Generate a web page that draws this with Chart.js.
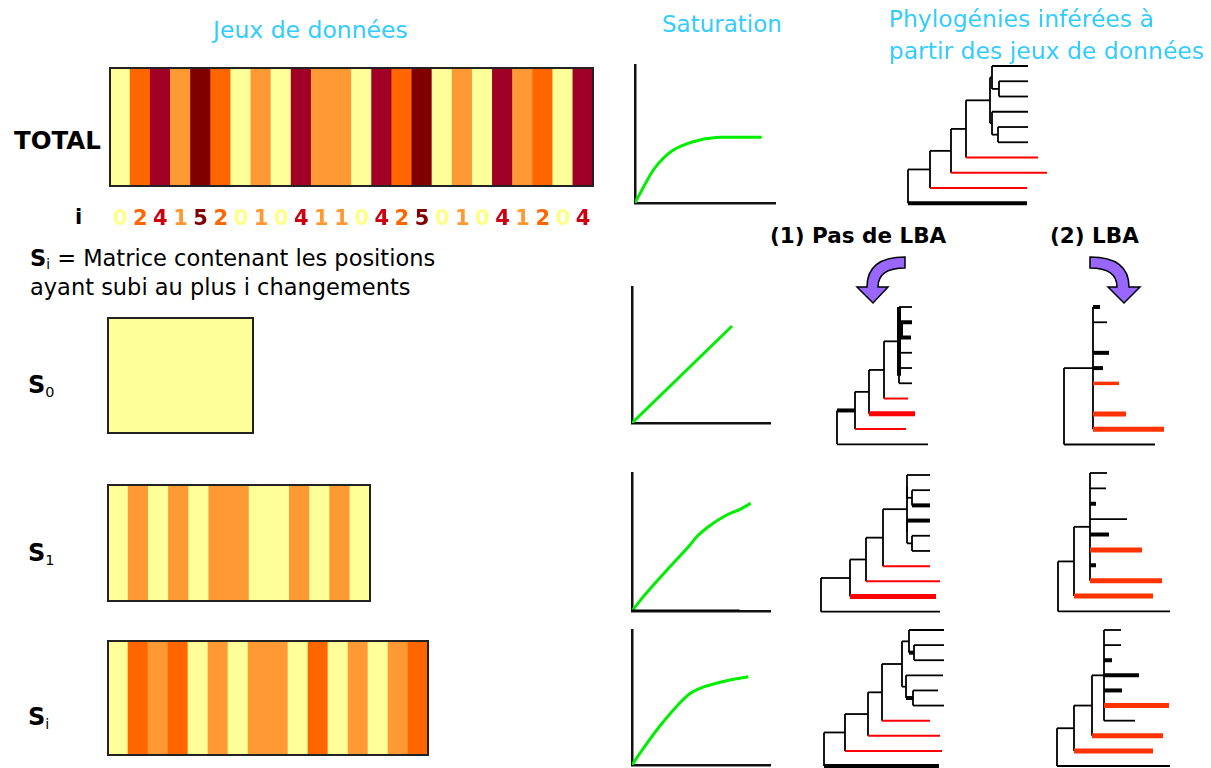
<!DOCTYPE html>
<html>
<head>
<meta charset="utf-8">
<script src="https://cdn.jsdelivr.net/npm/chart.js@4.4.0/dist/chart.umd.min.js"></script>
<style>
  body { margin: 0; background: #fff; width: 1211px; height: 768px; position: relative; overflow: hidden;
         font-family: "DejaVu Sans", sans-serif; }
  .t { position: absolute; white-space: nowrap; }
  .blue { color: #33ccff; }
  canvas { position: absolute; }
  sub { font-size: 60%; vertical-align: -0.25em; }
  svg { position: absolute; left: 0; top: 0; }
</style>
</head>
<body>

<svg width="1211" height="768">
  <path d="M905,257 L905,268 Q878,268 878,287 L888,287 L873,303 L857,287 L867,287 Q867,257 905,257 Z"
        fill="#9966ff" stroke="#000" stroke-width="1.5"/>
  <path d="M1090,257 L1090,268 Q1117,268 1117,287 L1108,287 L1124,303 L1140,287 L1129,287 Q1129,257 1090,257 Z"
        fill="#9966ff" stroke="#000" stroke-width="1.5"/>
</svg>

<script>
// number of changes per site (i), for each data set
const totalI = [0,2,4,1,5,2,0,1,0,4,1,1,0,4,2,5,0,1,0,4,1,2,0,4];
const s0I = [0,0,0,0,0,0,0];
const s1I = [0,1,0,1,0,1,1,0,0,1,0,1,0];
const siI = [0,2,1,2,0,1,0,1,1,0,2,0,1,0,1,2];

// saturation curves (observed vs inferred changes, normalised to the axes)
const satTotalX = [0, 0.024, 0.131, 0.202, 0.274, 0.369, 0.464, 0.536, 0.607, 0.905];
const satTotalY = [0, 0.046, 0.239, 0.324, 0.384, 0.428, 0.457, 0.469, 0.476, 0.476];
const satS0X = [0, 0.725];
const satS0Y = [0, 0.713];
const satS1X = [0, 0.082, 0.155, 0.275, 0.42, 0.469, 0.553, 0.686, 0.783, 0.86];
const satS1Y = [0, 0.104, 0.188, 0.321, 0.478, 0.538, 0.611, 0.696, 0.737, 0.78];
const satS1BaseX = [0, 0.78];
const satS1BaseY = [0, 0];
const satSiX = [0, 0.082, 0.227, 0.408, 0.493, 0.565, 0.71, 0.843];
const satSiY = [0, 0.123, 0.32, 0.519, 0.568, 0.593, 0.63, 0.654];

// trees: [branch length, kind, children, vertical kind]
// k = black, K = black bold, r = long branch (red), R = long branch bold, o/O = LBA long branch
const treeTotal = [0,'k',[
  [22,'k',[
    [21,'k',[
      [15,'k',[
        [24,'k',[
          [2,'k',[[36,'k'],[7,'k',[[29,'k'],[29,'k']]]]],
          [2,'k',[[36,'k'],[6,'k',[[30,'k'],[30,'k']]]]]
        ]],
        [72,'r']
      ]],
      [96,'r']
    ]],
    [97,'r']
  ]],
  [119,'K']
]];
const treeS0a = [0,'k',[
  [18,'K',[
    [14,'k',[
      [15,'k',[
        [15,'k',[
          [0,'k',[[13,'k'],[2,'K',[[11,'K'],[10,'K']],'K']],'K'],
          [0,'k',[[13,'k'],[0,'k',[[13,'k'],[13,'k']]]],'K']
        ],'K'],
        [24,'r']
      ]],
      [46,'R']
    ]],
    [51,'r']
  ]],
  [91,'k']
]];
const treeS0b = [0,'k',[
  [29,'k',[[7,'K'],[14,'k'],[0,'k'],[16,'K'],[10,'K'],[26,'o'],[0,'k'],[33,'O'],[71,'O']]],
  [91,'k']
]];
const treeS1a = [0,'k',[
  [29,'k',[
    [16,'k',[
      [17,'k',[
        [24,'k',[
          [0,'k',[[23,'k'],[5,'k',[[18,'k'],[18,'K']]]]],
          [0,'k',[[23,'K'],[5,'k',[[18,'k'],[18,'k']]]]]
        ]],
        [47,'r']
      ]],
      [74,'r']
    ]],
    [86,'R']
  ]],
  [119,'k']
]];
const treeS1b = [0,'k',[
  [16,'k',[
    [16,'k',[[17,'k'],[16,'k'],[6,'K'],[37,'k'],[19,'K'],[52,'O'],[6,'K'],[72,'O']]],
    [79,'O']
  ]],
  [112,'k']
]];
const treeSia = [0,'k',[
  [21,'k',[
    [23,'k',[
      [14,'k',[
        [20,'k',[
          [7,'k',[[35,'k'],[5,'K',[[30,'k'],[30,'k']]]]],
          [4,'k',[[37,'k'],[7,'K',[[25,'k'],[31,'k']]]]]
        ]],
        [48,'r']
      ]],
      [72,'r']
    ]],
    [97,'r']
  ]],
  [115,'K']
]];
const treeSib = [0,'k',[
  [17,'k',[
    [18,'k',[
      [12,'k',[[17,'k'],[17,'k'],[8,'K'],[35,'K'],[18,'K'],[65,'O'],[31,'k']]],
      [71,'O']
    ]],
    [79,'O']
  ]],
  [113,'k']
]];

const siteColors = {0: '#ffff99', 1: '#ff9933', 2: '#ff6600', 3: '#cc3300', 4: '#a10026', 5: '#800000'};
const digitColors = {0: '#ffff88', 1: '#ff9933', 2: '#ff6600', 3: '#cc3300', 4: '#cc0011', 5: '#800000'};
const branchStyle = {
  k: {c: '#000', w: 1.8}, K: {c: '#000', w: 4},
  r: {c: '#ff0000', w: 2}, R: {c: '#ff0000', w: 5},
  o: {c: '#ff3300', w: 3.5}, O: {c: '#ff3300', w: 5}
};
const FONT = '"DejaVu Sans", sans-serif';

function text(html, left, cy, size, opts = {}) {
  const d = document.createElement('div');
  d.className = 't' + (opts.blue ? ' blue' : '');
  d.innerHTML = html;
  const lh = Math.round(size * 1.2);
  d.style.left = left + 'px';
  d.style.top = (cy - lh / 2) + 'px';
  d.style.fontSize = size + 'px';
  d.style.lineHeight = lh + 'px';
  if (opts.bold) d.style.fontWeight = 'bold';
  document.body.appendChild(d);
}

function canvasAt(left, top, w, h) {
  const c = document.createElement('canvas');
  c.width = w; c.height = h;
  c.style.left = left + 'px'; c.style.top = top + 'px';
  c.style.width = w + 'px'; c.style.height = h + 'px';
  document.body.appendChild(c);
  return c.getContext('2d');
}

const framePlugin = {
  id: 'frame',
  afterDraw(chart) {
    const {ctx, chartArea: a} = chart;
    ctx.save();
    ctx.strokeStyle = '#222';
    ctx.lineWidth = 2;
    ctx.strokeRect(a.left, a.top, a.right - a.left, a.bottom - a.top);
    ctx.restore();
  }
};

function stripChart(sites, box, withDigits) {
  const pad = 2, axisH = 48;
  const ctx = canvasAt(box.x - pad, box.y - pad, box.w + 2 * pad, box.h + pad + (withDigits ? axisH : pad));
  const xAxis = {
    display: withDigits,
    grid: {display: false, drawTicks: false},
    border: {display: false},
    ticks: {
      autoSkip: false, maxRotation: 0, padding: 21,
      color: c => digitColors[sites[c.index]],
      font: {family: FONT, size: 21, weight: 'bold'}
    }
  };
  if (withDigits) {
    xAxis.afterFit = s => { s.height = axisH; s.paddingLeft = 0; s.paddingRight = 0; };
  }
  return new Chart(ctx, {
    type: 'bar',
    data: {
      labels: sites.map(String),
      datasets: [{
        data: sites.map(() => 1),
        backgroundColor: sites.map(i => siteColors[i]),
        borderWidth: 0,
        barPercentage: 1,
        categoryPercentage: 1
      }]
    },
    options: {
      responsive: false,
      maintainAspectRatio: false,
      animation: false,
      layout: {padding: {left: pad, right: pad, top: pad, bottom: withDigits ? 0 : pad}},
      plugins: {legend: {display: false}, tooltip: {enabled: false}},
      scales: {
        x: xAxis,
        y: {display: false, min: 0, max: 1}
      }
    },
    plugins: [framePlugin]
  });
}

function satChart(curves, box) {
  const pad = 4;
  const ctx = canvasAt(box.x - pad, box.y - pad, box.w + 2 * pad, box.h + 2 * pad);
  const axis = {
    type: 'linear', min: 0, max: 1,
    grid: {display: false, drawTicks: false},
    ticks: {display: false},
    border: {display: true, color: '#111', width: 2.5}
  };
  return new Chart(ctx, {
    type: 'line',
    data: {
      datasets: curves.map(c => ({
        data: c.x.map((x, k) => ({x, y: c.y[k]})),
        borderColor: c.color,
        borderWidth: c.width,
        pointRadius: 0,
        cubicInterpolationMode: 'monotone',
        fill: false
      }))
    },
    options: {
      responsive: false,
      maintainAspectRatio: false,
      animation: false,
      layout: {padding: pad},
      plugins: {legend: {display: false}, tooltip: {enabled: false}},
      scales: {x: axis, y: {...axis}}
    }
  });
}

function layoutTree(root) {
  const segs = [];
  let leaf = 0;
  function walk(node, parentX) {
    const [len, kind, kids, vkind] = node;
    const x = parentX + len;
    let row;
    if (kids) {
      const rows = kids.map(k => walk(k, x));
      const r0 = rows[0], r1 = rows[rows.length - 1];
      segs.push({kind: vkind || 'k', pts: [{x, y: r0}, {x, y: r1}]});
      row = (r0 + r1) / 2;
    } else {
      row = leaf++;
    }
    if (len > 0) segs.push({kind, pts: [{x: parentX, y: row}, {x, y: row}]});
    return row;
  }
  walk(root, 0);
  return {segs, leaves: leaf};
}

function treeChart(tree, pos) {
  const pad = 5;
  const {segs, leaves} = layoutTree(tree);
  const maxX = Math.max(...segs.map(s => Math.max(s.pts[0].x, s.pts[1].x)));
  const spanY = pos.bottom - pos.top;
  const rowPx = spanY / (leaves - 1);
  const ctx = canvasAt(pos.rootX - pad, pos.top - pad, Math.ceil(maxX) + 2 * pad, Math.ceil(spanY) + 2 * pad);
  return new Chart(ctx, {
    type: 'line',
    data: {
      datasets: segs.map(s => ({
        data: s.pts,
        borderColor: branchStyle[s.kind].c,
        borderWidth: branchStyle[s.kind].w,
        pointRadius: 0,
        fill: false
      }))
    },
    options: {
      responsive: false,
      maintainAspectRatio: false,
      animation: false,
      layout: {padding: 0},
      plugins: {legend: {display: false}, tooltip: {enabled: false}},
      scales: {
        x: {type: 'linear', display: false, min: -pad, max: Math.ceil(maxX) + pad},
        y: {type: 'linear', display: false, reverse: true,
            min: -pad / rowPx, max: (leaves - 1) + (Math.ceil(spanY) - spanY + pad) / rowPx}
      }
    }
  });
}

// data sets
stripChart(totalI, {x: 110, y: 68, w: 483, h: 118}, true);
stripChart(s0I, {x: 108, y: 318, w: 145, h: 115}, false);
stripChart(s1I, {x: 108, y: 485, w: 262, h: 116}, false);
stripChart(siI, {x: 108, y: 641, w: 320, h: 114}, false);

// saturation
const GREEN = '#00ee00';
satChart([{x: satTotalX, y: satTotalY, color: GREEN, width: 3}], {x: 635, y: 65, w: 140, h: 138});
satChart([{x: satS0X, y: satS0Y, color: GREEN, width: 3}], {x: 632, y: 287, w: 138, h: 136});
satChart([{x: satS1BaseX, y: satS1BaseY, color: '#000', width: 3},
          {x: satS1X, y: satS1Y, color: GREEN, width: 3}], {x: 632, y: 473, w: 138, h: 138});
satChart([{x: satSiX, y: satSiY, color: GREEN, width: 3}], {x: 632, y: 630, w: 138, h: 135});

// phylogenies
treeChart(treeTotal, {rootX: 908, top: 66, bottom: 203.3});
treeChart(treeS0a, {rootX: 837.3, top: 306.7, bottom: 444});
treeChart(treeS0b, {rootX: 1064, top: 306.5, bottom: 444});
treeChart(treeS1a, {rootX: 820.7, top: 475, bottom: 611.7});
treeChart(treeS1b, {rootX: 1058.3, top: 473.3, bottom: 611.7});
treeChart(treeSia, {rootX: 824, top: 630, bottom: 766});
treeChart(treeSib, {rootX: 1057.3, top: 630, bottom: 766});

// labels
text('Jeux de données', 213, 30, 23.5, {blue: true});
text('Saturation', 662, 24, 23, {blue: true});
text('Phylogénies inférées à', 889, 19, 23.5, {blue: true});
text('partir des jeux de données', 889, 51, 23.5, {blue: true});
text('TOTAL', 14, 140, 24.5, {bold: true});
text('i', 75, 217, 21, {bold: true});
text('<b>S</b><sub>i</sub> = Matrice contenant les positions', 30, 258, 22.5);
text('ayant subi au plus i changements', 30, 287, 22.5);
text('<b>S</b><sub>0</sub>', 28, 385, 24);
text('<b>S</b><sub>1</sub>', 28, 553, 24);
text('<b>S</b><sub>i</sub>', 28, 717, 24);
text('(1) Pas de LBA', 770, 236, 21.5, {bold: true});
text('(2) LBA', 1050, 236, 21.5, {bold: true});
</script>
</body>
</html>
